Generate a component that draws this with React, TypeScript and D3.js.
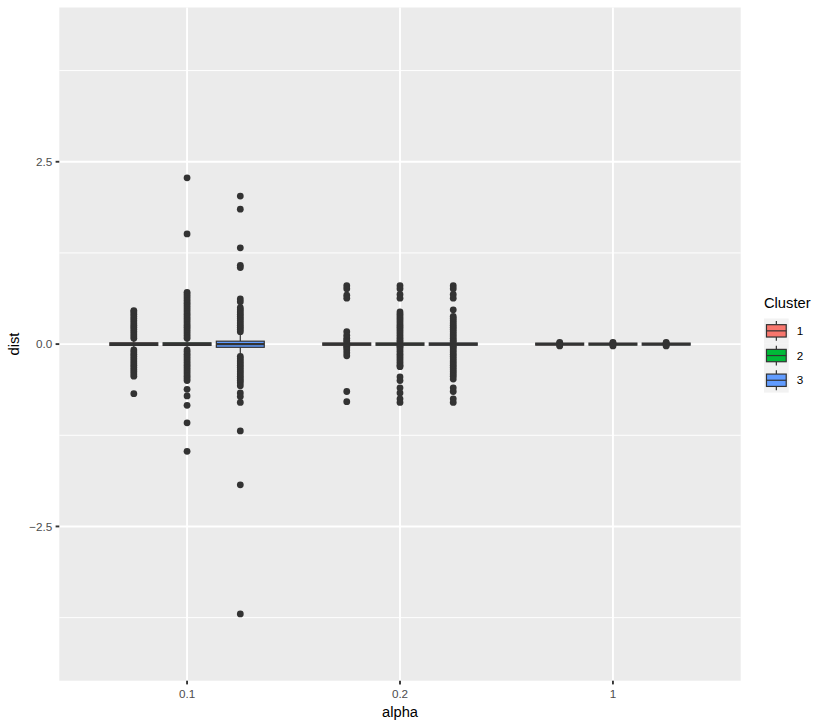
import React from "react";
import * as d3 from "d3";

const alphas = ["0.1", "0.2", "1"];
const clusters = ["1", "2", "3"];
const colors = ["#F8766D", "#00BA38", "#619CFF"];
const yTicks = [-2.5, 0, 2.5];
const yMinor = [-3.75, -1.25, 1.25, 3.75];

// box stats per cluster: [lowerWhisker, q1, median, q3, upperWhisker]
const stats_01 = [
  [-0.06, -0.018, 0, 0.018, 0.06],
  [-0.06, -0.018, 0, 0.018, 0.06],
  [-0.15, -0.044, 0, 0.04, 0.15],
];
const stats_02 = [
  [-0.03, -0.016, 0, 0.016, 0.03],
  [-0.03, -0.016, 0, 0.016, 0.03],
  [-0.03, -0.016, 0, 0.016, 0.03],
];
const stats_1 = [
  [-0.014, -0.014, 0, 0.014, 0.014],
  [-0.014, -0.014, 0, 0.014, 0.014],
  [-0.014, -0.014, 0, 0.014, 0.014],
];

const out_01_1 = [0.08, 0.11, 0.14, 0.17, 0.2, 0.23, 0.26, 0.29, 0.32, 0.35, 0.38, 0.41, 0.44, 0.46,
  -0.08, -0.11, -0.14, -0.17, -0.2, -0.23, -0.26, -0.29, -0.32, -0.35, -0.38, -0.41, -0.44, -0.68];
const out_01_2 = [2.28, 1.51, 0.71, 0.68, 0.65, 0.62, 0.59, 0.56, 0.53, 0.5, 0.47, 0.44, 0.41, 0.38, 0.35, 0.32,
  0.29, 0.26, 0.23, 0.2, 0.17, 0.14, 0.11, 0.08,
  -0.08, -0.11, -0.14, -0.17, -0.2, -0.23, -0.26, -0.29, -0.32, -0.35, -0.38, -0.41, -0.44, -0.47, -0.5,
  -0.62, -0.71, -0.84, -1.08, -1.47];
const out_01_3 = [2.03, 1.85, 1.32, 1.08, 1.05, 0.62, 0.58, 0.5, 0.47, 0.44, 0.41, 0.38, 0.35, 0.32, 0.29, 0.26,
  0.23, 0.2, 0.17,
  -0.17, -0.2, -0.23, -0.26, -0.29, -0.32, -0.35, -0.38, -0.41, -0.44, -0.47, -0.5, -0.53, -0.57,
  -0.67, -0.72, -0.8, -1.19, -1.93, -3.7];
const out_02_1 = [0.8, 0.76, 0.67, 0.63, 0.17, 0.12, 0.08, 0.05, 0.03, -0.03, -0.05, -0.08, -0.12, -0.16,
  -0.65, -0.79];
const out_02_2 = [0.8, 0.76, 0.68, 0.63, 0.44, 0.41, 0.38, 0.35, 0.32, 0.29, 0.26, 0.23, 0.2, 0.17, 0.14, 0.11,
  0.08, 0.05, 0.03, -0.03, -0.05, -0.08, -0.11, -0.14, -0.17, -0.2, -0.23, -0.26, -0.29, -0.31,
  -0.45, -0.5, -0.6, -0.67, -0.75, -0.8];
const out_02_3 = [0.8, 0.76, 0.68, 0.63, 0.47, 0.38, 0.35, 0.32, 0.29, 0.26, 0.23, 0.2, 0.17, 0.14, 0.11,
  0.08, 0.05, 0.03, -0.03, -0.05, -0.08, -0.11, -0.14, -0.17, -0.2, -0.23, -0.26, -0.29, -0.32, -0.35,
  -0.38, -0.41, -0.44, -0.48, -0.6, -0.65, -0.75, -0.8];
const out_1_1 = [0.025, 0.012, -0.012, -0.025];
const out_1_2 = [0.025, 0.012, -0.012, -0.025];
const out_1_3 = [0.025, 0.012, -0.012, -0.025];

const allStats = [stats_01, stats_02, stats_1];
const allOut = [
  [out_01_1, out_01_2, out_01_3],
  [out_02_1, out_02_2, out_02_3],
  [out_1_1, out_1_2, out_1_3],
];

const W = 830;
const H = 727;
const panel = { left: 59.3, right: 740.7, top: 7.5, bottom: 680.7 };
const FONT = "'Liberation Sans', Arial, Helvetica, sans-serif";
const DARK = "#333333";
const GRID = 1.9;
const BLW = 1.2;

export default function App() {
  const x = d3.scalePoint<string>().domain(alphas).range([panel.left, panel.right]).padding(0.6);
  const step = x.step();
  const xd = d3
    .scaleBand<string>()
    .domain(clusters)
    .range([-0.375 * step, 0.375 * step])
    .paddingInner(0.1)
    .paddingOuter(0.05);
  const y = d3.scaleLinear().domain([-4.615, 4.615]).range([panel.bottom, panel.top]);
  const bw = xd.bandwidth();

  const boxes: React.ReactNode[] = [];
  alphas.forEach((a, ai) => {
    clusters.forEach((c, ci) => {
      const cx = (x(a) as number) + (xd(c) as number) + bw / 2;
      const x0 = (x(a) as number) + (xd(c) as number);
      const [lw, q1, med, q3, uw] = allStats[ai][ci];
      const outs = allOut[ai][ci];
      boxes.push(
        <g key={a + c}>
          <line x1={cx} x2={cx} y1={y(uw)} y2={y(q3)} stroke={DARK} strokeWidth={BLW} />
          <line x1={cx} x2={cx} y1={y(q1)} y2={y(lw)} stroke={DARK} strokeWidth={BLW} />
          <rect x={x0} width={bw} y={y(q3)} height={Math.max(0, y(q1) - y(q3))} fill={colors[ci]} stroke={DARK} strokeWidth={BLW} />
          <line x1={x0} x2={x0 + bw} y1={y(med)} y2={y(med)} stroke={DARK} strokeWidth={BLW * 2} />
          {outs.map((v, i) => (
            <circle key={i} cx={cx} cy={y(v)} r={3.4} fill={DARK} />
          ))}
        </g>
      );
    });
  });

  const keyX = 764;
  const keyY = 318.5;
  const keyS = 24.7;

  return (
    <svg width={W} height={H} style={{ position: "absolute", left: 0, top: 0, background: "#fff" }} fontFamily={FONT}>
      <rect x={0} y={0} width={W} height={H} fill="#fff" />
      <rect x={panel.left} y={panel.top} width={panel.right - panel.left} height={panel.bottom - panel.top} fill="#EBEBEB" />
      {yMinor.map((v) => (
        <line key={"m" + v} x1={panel.left} x2={panel.right} y1={y(v)} y2={y(v)} stroke="#fff" strokeWidth={0.95} />
      ))}
      {yTicks.map((v) => (
        <line key={"g" + v} x1={panel.left} x2={panel.right} y1={y(v)} y2={y(v)} stroke="#fff" strokeWidth={GRID} />
      ))}
      {alphas.map((a) => (
        <line key={"gx" + a} x1={x(a)} x2={x(a)} y1={panel.top} y2={panel.bottom} stroke="#fff" strokeWidth={GRID} />
      ))}
      {boxes}
      {/* y axis */}
      {yTicks.map((v) => (
        <g key={"yt" + v}>
          <line x1={panel.left - 3.7} x2={panel.left} y1={y(v)} y2={y(v)} stroke={DARK} strokeWidth={GRID} />
          <text x={panel.left - 7} y={y(v)} dy="0.35em" textAnchor="end" fontSize={11.7} fill="#4D4D4D">
            {v === 0 ? "0.0" : v < 0 ? "\u22122.5" : "2.5"}
          </text>
        </g>
      ))}
      {/* x axis */}
      {alphas.map((a) => (
        <g key={"xt" + a}>
          <line x1={x(a)} x2={x(a)} y1={panel.bottom} y2={panel.bottom + 3.7} stroke={DARK} strokeWidth={GRID} />
          <text x={x(a)} y={panel.bottom + 17.5} textAnchor="middle" fontSize={11.7} fill="#4D4D4D">
            {a}
          </text>
        </g>
      ))}
      <text x={(panel.left + panel.right) / 2} y={717} textAnchor="middle" fontSize={14.7} fill="#000">
        alpha
      </text>
      <text transform={`translate(19,${y(0)}) rotate(-90)`} textAnchor="middle" fontSize={14.7} fill="#000">
        dist
      </text>
      {/* legend */}
      <text x={keyX} y={308} fontSize={14.7} fill="#000">
        Cluster
      </text>
      {clusters.map((c, i) => {
        const ky = keyY + i * keyS;
        return (
          <g key={"lg" + c}>
            <rect x={keyX} y={ky} width={keyS} height={keyS} fill="#F2F2F2" />
            <line x1={keyX + keyS / 2} x2={keyX + keyS / 2} y1={ky + keyS * 0.1} y2={ky + keyS * 0.25} stroke={DARK} strokeWidth={BLW} />
            <line x1={keyX + keyS / 2} x2={keyX + keyS / 2} y1={ky + keyS * 0.75} y2={ky + keyS * 0.9} stroke={DARK} strokeWidth={BLW} />
            <rect x={keyX + keyS * 0.1} y={ky + keyS * 0.25} width={keyS * 0.8} height={keyS * 0.5} fill={colors[i]} stroke={DARK} strokeWidth={BLW} />
            <line x1={keyX + keyS * 0.1} x2={keyX + keyS * 0.9} y1={ky + keyS / 2} y2={ky + keyS / 2} stroke={DARK} strokeWidth={BLW} />
            <text x={keyX + keyS + 8} y={ky + keyS / 2} dy="0.35em" fontSize={11.7} fill="#000">
              {c}
            </text>
          </g>
        );
      })}
    </svg>
  );
}
